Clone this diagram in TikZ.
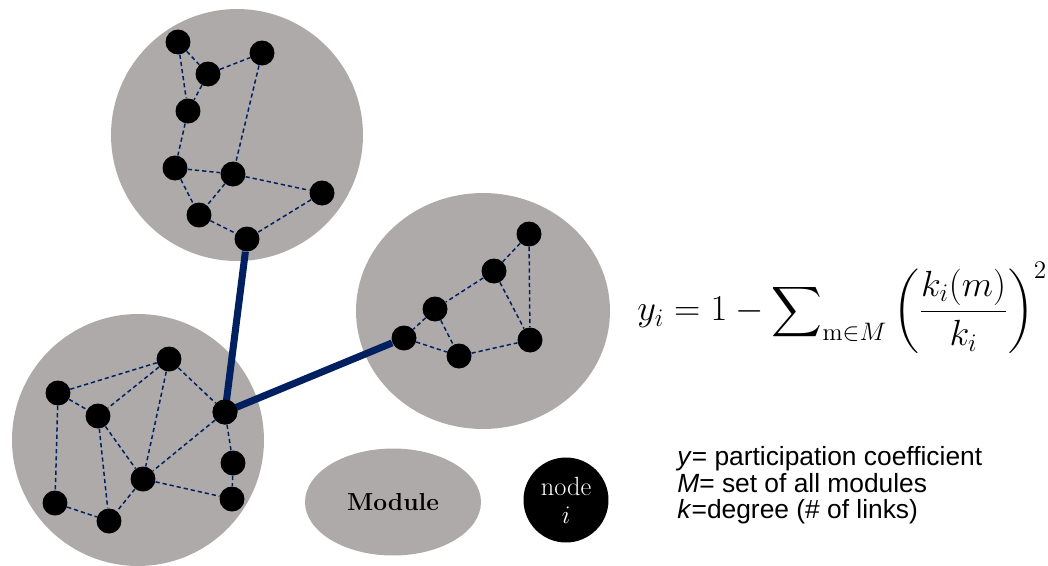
\documentclass[tikz,border=0pt]{standalone}
\usepackage{amsmath,amssymb}
\usepackage{fontspec}
\newfontfamily\arialfont{Liberation Sans}
\usetikzlibrary{positioning,shapes.geometric}
\definecolor{ModuleGray}{RGB}{174,170,170}
\definecolor{LinkBlue}{RGB}{0,32,96}

\begin{document}
\begin{tikzpicture}[x=0.02cm,y=-0.02cm,
    vtx/.style={circle,fill=black,inner sep=0pt,minimum size=0.5cm},
    link/.style={LinkBlue,line width=0.85pt,dash pattern=on 2.4pt off 1.7pt},
    bridge/.style={LinkBlue,line width=4pt}]
  \useasboundingbox (0,0) rectangle (1048,565);
  % modules
  \fill[ModuleGray] (237,135) circle (2.52cm);
  \fill[ModuleGray] (483,311) ellipse (2.54cm and 2.36cm);
  \fill[ModuleGray] (138,440) circle (2.52cm);
  % top module
  \node[vtx] (a1) at (178,42) {};
  \node[vtx] (a2) at (262,53) {};
  \node[vtx] (a3) at (208,74) {};
  \node[vtx] (a4) at (188,111) {};
  \node[vtx] (a5) at (175,168) {};
  \node[vtx] (a6) at (233,174) {};
  \node[vtx] (a7) at (322,193) {};
  \node[vtx] (a8) at (199,215) {};
  \node[vtx] (a9) at (247,239) {};
  % right module
  \node[vtx] (b1) at (529,234) {};
  \node[vtx] (b2) at (494,271) {};
  \node[vtx] (b3) at (435,309) {};
  \node[vtx] (b4) at (404,338) {};
  \node[vtx] (b5) at (459,356) {};
  \node[vtx] (b6) at (530,340) {};
  % bottom-left module
  \node[vtx] (c1) at (169,359) {};
  \node[vtx] (c2) at (58,393) {};
  \node[vtx] (c3) at (98,416) {};
  \node[vtx] (c4) at (225,412) {};
  \node[vtx] (c5) at (233,463) {};
  \node[vtx] (c6) at (143,479) {};
  \node[vtx] (c7) at (55,503) {};
  \node[vtx] (c8) at (232,499) {};
  \node[vtx] (c9) at (109,521) {};
  % links inside modules
  \foreach \u/\v in {a1/a3,a1/a4,a3/a2,a3/a4,a2/a6,a4/a5,a5/a6,a5/a8,
      a6/a8,a6/a7,a7/a9,a8/a9,
      b1/b2,b1/b6,b2/b3,b2/b6,b3/b4,b3/b5,b4/b5,b5/b6,
      c2/c1,c1/c3,c1/c6,c1/c4,c2/c3,c2/c7,c3/c9,c3/c6,c4/c6,c4/c5,
      c5/c8,c6/c8,c6/c9,c7/c9}
    \draw[link] (\u) -- (\v);
  % links between modules
  \draw[bridge] (a9) -- (c4.center) -- (b4);
  \node[vtx] at (c4) {};
  % legend
  \node[ellipse,fill=ModuleGray,minimum width=3.52cm,minimum height=2.14cm,
    font=\fontsize{14}{16}\selectfont\bfseries] (module) at (393,502) {Module};
  \node[circle,fill=black,text=white,minimum size=1.7cm,inner sep=0pt,align=center,
    font=\fontsize{15}{17}\selectfont] (nodei) at (566,500) {node\\[-1pt]$i$};
  % formula
  \node[anchor=west,inner sep=0pt,font=\fontsize{20}{24}\selectfont] (pc) at (637,308)
    {$y_i = 1 - \displaystyle\sum\nolimits_{\mathrm{m}\in M}\left(\frac{k_i(m)}{k_i}\right)^{2}$};
  \node[anchor=north west,inner sep=0pt,align=left,
    font=\arialfont\fontsize{15}{15.2}\selectfont] (defs) at (677,446)
    {\textit{y}= participation coefficient\\
     \textit{M}= set of all modules\\
     \textit{k}=degree (\# of links)};
\end{tikzpicture}
\end{document}
